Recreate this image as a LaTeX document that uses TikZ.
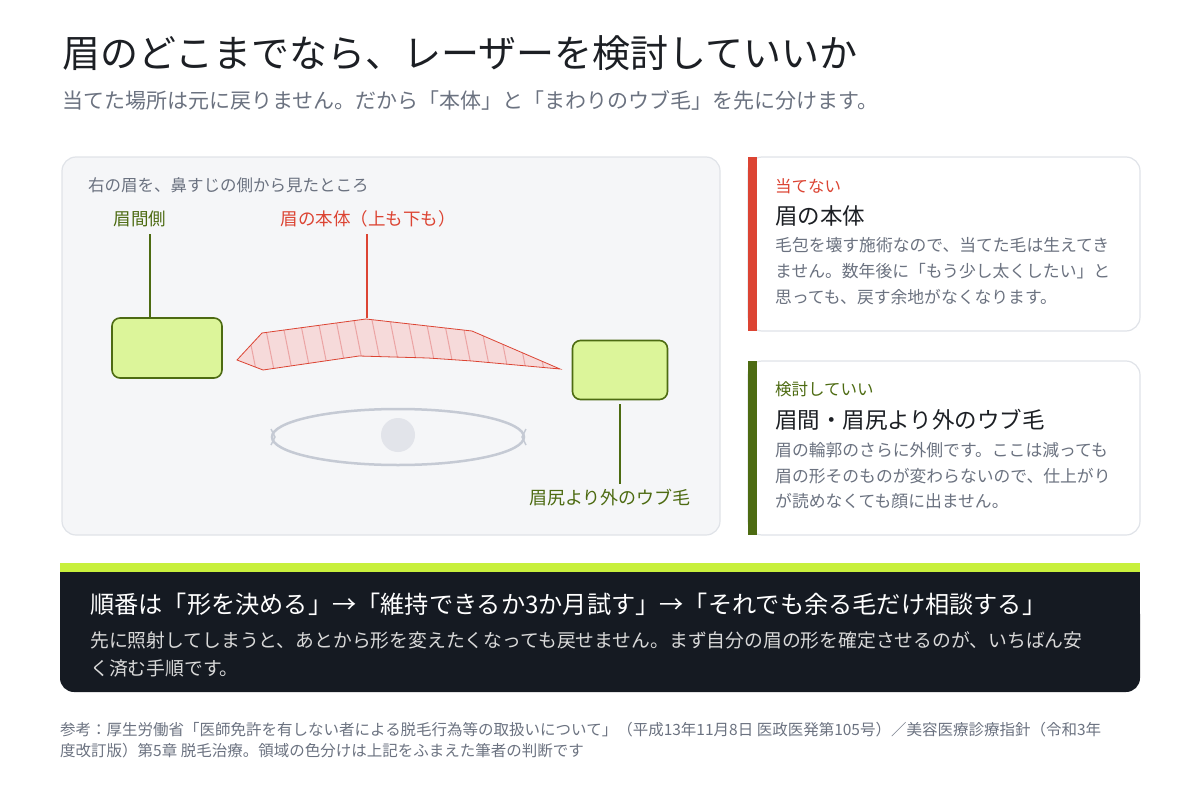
\documentclass[tikz,border=0pt]{standalone}
\usepackage{fontspec}
\setmainfont{Noto Sans CJK JP}
\definecolor{inkk}{HTML}{1C1F24}
\definecolor{mute}{HTML}{6B7280}
\definecolor{frame}{HTML}{E0E3E8}
\definecolor{panel}{HTML}{F5F6F8}
\definecolor{alert}{HTML}{DC4433}
\definecolor{leaf}{HTML}{4D6B12}
\definecolor{lime}{HTML}{DCF59A}
\definecolor{neon}{HTML}{C8F03C}
\definecolor{night}{HTML}{151A22}
\definecolor{hatch}{HTML}{EBA5A5}
\definecolor{blush}{HTML}{F6DADA}
\definecolor{eyegray}{HTML}{C5CAD4}
\newcommand{\fs}[1]{\fontsize{#1}{#1}\selectfont}
\begin{document}
\begin{tikzpicture}[
    x=1pt, y=-1pt,
    txt/.style={anchor=base west, inner sep=0pt},
    zone/.style={rounded corners=8pt, fill=lime, draw=leaf, line width=1.6pt},
    card/.style={rounded corners=14pt, fill=white, draw=frame, line width=1.2pt},
    lead/.style={line width=1.4pt}
]
   \useasboundingbox (0,0) rectangle (1200,800);

   % Heading
   \node[txt, font=\fs{38}, text=inkk] (title) at (62,68) {眉のどこまでなら、レーザーを検討していいか};
   \node[txt, font=\fs{21}, text=mute] (sub) at (62,109) {当てた場所は元に戻りません。だから「本体」と「まわりのウブ毛」を先に分けます。};

   % Left panel
   \draw[rounded corners=14pt, fill=panel, draw=frame, line width=1.2pt] (62,157) rectangle (720,535);
   \node[txt, font=\fs{16.5}, text=mute] (cap) at (88,191) {右の眉を、鼻すじの側から見たところ};

   % Eyebrow body
   \begin{scope}
     \path[clip] (237,360) -- (262,333) -- (366,319) -- (472,331) -- (560,369) -- (472,361) -- (428,358) -- (359,356) -- (263,370) -- cycle;
     \fill[blush] (230,310) rectangle (570,380);
     \foreach \x in {190,208,...,600} \draw[hatch, line width=1pt] (\x,310) -- (\x+14,380);
   \end{scope}
   \draw[alert, line width=0.8pt] (237,360) -- (262,333) -- (366,319) -- (472,331) -- (560,369) -- (472,361) -- (428,358) -- (359,356) -- (263,370) -- cycle;

   % Zones
   \node[zone, minimum width=110pt, minimum height=60pt] (inner) at (167,348) {};
   \node[zone, minimum width=95pt, minimum height=59pt] (outer) at (620,370) {};

   % Eye
   \draw[eyegray, line width=2.5pt] (398,437) ellipse [x radius=126, y radius=28];
   \draw[eyegray, line width=1.5pt] (271,429) -- (275,437) -- (271,445) (526,429) -- (522,437) -- (526,445);
   \fill[fill=eyegray!50] (398,435) circle [radius=17];

   % Labels
   \node[font=\fs{17.5}, text=leaf, inner sep=0pt] (innerlbl) at (140,219) {眉間側};
   \node[font=\fs{17.5}, text=alert, inner sep=0pt] (bodylbl) at (368,219) {眉の本体（上も下も）};
   \node[font=\fs{18}, text=leaf, inner sep=0pt] (outerlbl) at (610,498) {眉尻より外のウブ毛};
   \draw[lead, leaf] (150,234) -- (inner.north -| 150,0);
   \draw[lead, alert] (367,234) -- (367,318);
   \draw[lead, leaf] (outer.south) ++(0,4) -- (620,484);

   % Card: do not treat
   \draw[card] (748,157) rectangle (1140,331);
   \fill[alert] (748,157) rectangle (757,331);
   \node[txt, font=\fs{16.5}, text=alert] (nolbl) at (775,192) {当てない};
   \node[txt, font=\fs{22.5}, text=inkk] (nohead) at (775,224) {眉の本体};
   \node[txt, font=\fs{16.8}, text=mute] (no1) at (775,251) {毛包を壊す施術なので、当てた毛は生えてき};
   \node[txt, font=\fs{16.8}, text=mute] (no2) at (775,277) {ません。数年後に「もう少し太くしたい」と};
   \node[txt, font=\fs{16.8}, text=mute] (no3) at (775,303) {思っても、戻す余地がなくなります。};

   % Card: may consider
   \draw[card] (748,361) rectangle (1140,535);
   \fill[leaf] (748,361) rectangle (757,535);
   \node[txt, font=\fs{16.5}, text=leaf] (oklbl) at (775,395) {検討していい};
   \node[txt, font=\fs{22.5}, text=inkk] (okhead) at (775,428) {眉間・眉尻より外のウブ毛};
   \node[txt, font=\fs{16.8}, text=mute] (ok1) at (775,456) {眉の輪郭のさらに外側です。ここは減っても};
   \node[txt, font=\fs{16.8}, text=mute] (ok2) at (775,482) {眉の形そのものが変わらないので、仕上がり};
   \node[txt, font=\fs{16.8}, text=mute] (ok3) at (775,507) {が読めなくても顔に出ません。};

   % Order box
   \fill[night, rounded corners=14pt] (60,600) -- (60,692) -- (1140,692) -- (1140,600) -- cycle;
   \fill[night] (60,566) rectangle (1140,640);
   \fill[neon] (60,563) rectangle (1140,572);
   \node[txt, font=\fs{24.2}, text=white] (order) at (90,613) {順番は「形を決める」→「維持できるか3か月試す」→「それでも余る毛だけ相談する」};
   \node[txt, font=\fs{18.8}, text=black!15] (why1) at (90,647) {先に照射してしまうと、あとから形を変えたくなっても戻せません。まず自分の眉の形を確定させるのが、いちばん安};
   \node[txt, font=\fs{18.8}, text=black!15] (why2) at (90,675) {く済む手順です。};

   % Sources
   \node[txt, font=\fs{15.5}, text=mute] (src1) at (60,735) {参考：厚生労働省「医師免許を有しない者による脱毛行為等の取扱いについて」（平成13年11月8日 医政医発第105号）／美容医療診療指針（令和3年};
   \node[txt, font=\fs{15.5}, text=mute] (src2) at (60,756) {度改訂版）第5章 脱毛治療。領域の色分けは上記をふまえた筆者の判断です};
\end{tikzpicture}
\end{document}
